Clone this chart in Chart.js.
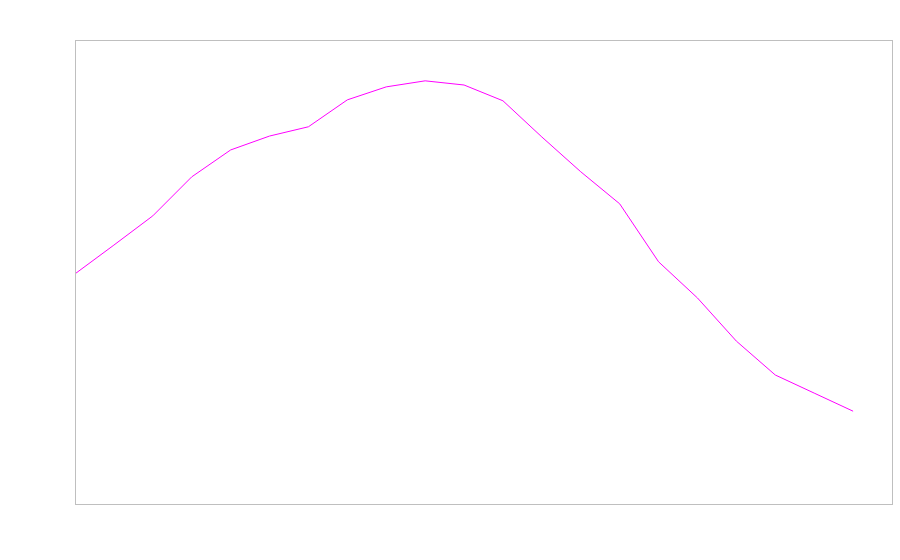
<!DOCTYPE html>
<html lang="en">

<head>
  <meta charset="UTF-8">
  <title>Line Chart</title>
  <script src="https://cdn.jsdelivr.net/npm/chart.js"></script>
  <style>
    body { margin: 0; background: #fff; }
  </style>
</head>

<body>

  <canvas id="lineChart" width="900" height="560"></canvas>

  <script>
    // values (y on a 0-100 scale)
    const xValues = [0, 1, 2, 3, 4, 5, 6, 7, 8, 9, 10, 11, 12, 13, 14, 15, 16, 17, 18, 19, 20];
    const yValues = [49.6, 55.8, 62.1, 70.5, 76.3, 79.3, 81.3, 87.1, 89.9, 91.2, 90.3,
                     86.9, 79.1, 71.6, 64.7, 52.2, 44.4, 35.1, 27.8, 23.9, 20.0];

    // box round the plot area
    const frameBox = {
      id: 'frameBox',
      afterDraw(chart) {
        const { ctx, chartArea: a } = chart;
        ctx.save();
        ctx.strokeStyle = '#bfbfbf';
        ctx.lineWidth = 1;
        ctx.strokeRect(a.left + 0.5, a.top + 0.5, a.right - a.left, a.bottom - a.top);
        ctx.restore();
      }
    };

    window.onload = function () {
      const ctx = document.getElementById('lineChart').getContext('2d');

      new Chart(ctx, {
        type: 'line',
        data: {
          datasets: [{
            data: xValues.map((x, i) => ({ x: x, y: yValues[i] })),
            borderColor: '#ff00ff',
            borderWidth: 1,
            pointRadius: 0,
            tension: 0,
            fill: false
          }]
        },
        options: {
          responsive: false,
          animation: false,
          layout: { padding: { left: 75, right: 8, top: 40, bottom: 56 } },
          plugins: { legend: { display: false }, tooltip: { enabled: false } },
          scales: {
            x: { type: 'linear', min: 0, max: 21, display: false },
            y: { min: 0, max: 100, display: false }
          }
        },
        plugins: [frameBox]
      });
    }
  </script>

</body>

</html>
